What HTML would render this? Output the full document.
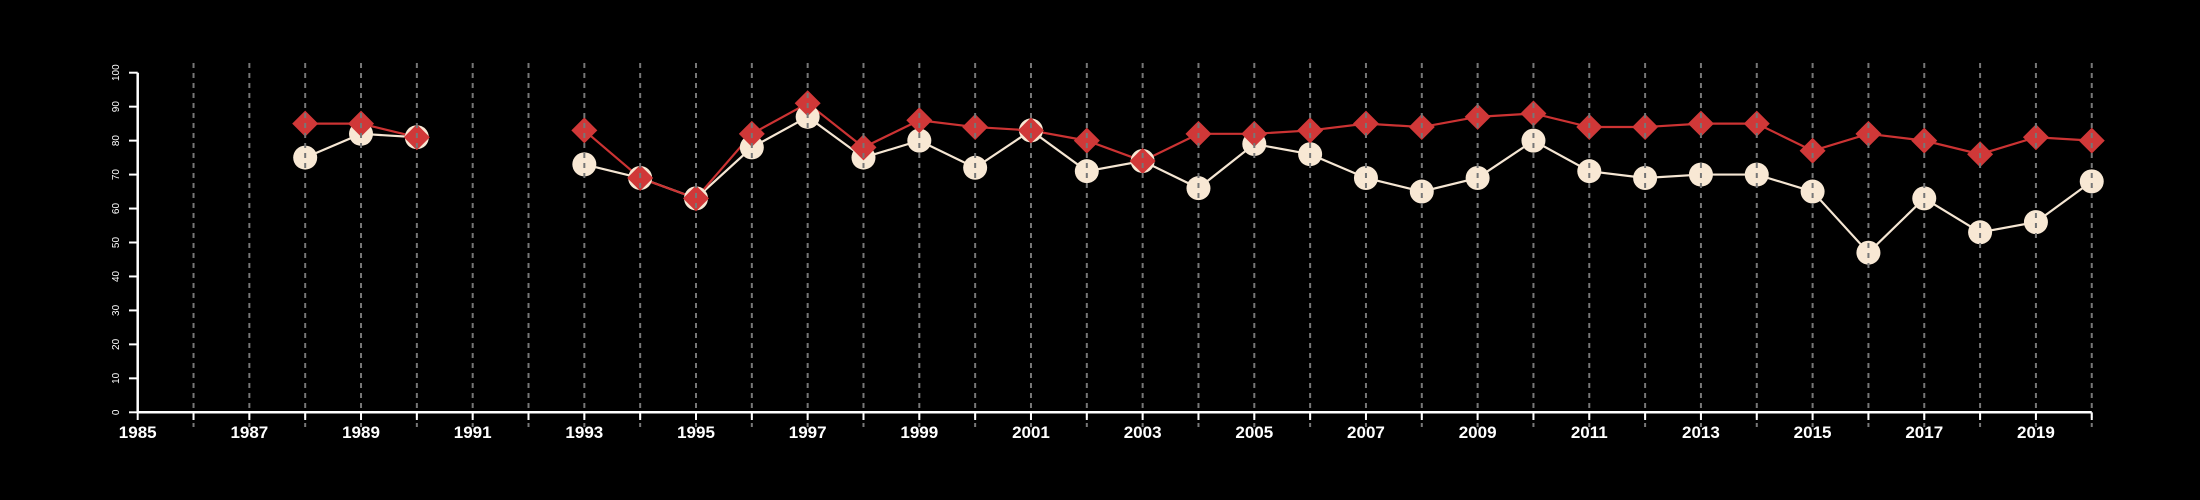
<!DOCTYPE html>
<html><head><meta charset="utf-8"><style>
html,body{margin:0;padding:0;background:#000;}
svg{display:block;font-family:"Liberation Sans",sans-serif;}
</style></head><body>
<svg id="chart" width="2200" height="500" viewBox="0 0 2200 500">
<rect width="2200" height="500" fill="#000"/>
<g id="series"></g><g id="grid"></g><g id="axes"></g>
</svg>
<script>
const years = [1988,1989,1990,1991,1992,1993,1994,1995,1996,1997,1998,1999,2000,2001,2002,2003,2004,2005,2006,2007,2008,2009,2010,2011,2012,2013,2014,2015,2016,2017,2018,2019,2020];
const whiteSeries = [75,82,81,null,null,73,69,63,78,87,75,80,72,83,71,74,66,79,76,69,65,69,80,71,69,70,70,65,47,63,53,56,68];
const redSeries = [85,85,81,null,null,83,69,63,82,91,78,86,84,83,80,74,82,82,83,85,84,87,88,84,84,85,85,77,82,80,76,81,80];
const xTickLabels = [1985,1987,1989,1991,1993,1995,1997,1999,2001,2003,2005,2007,2009,2011,2013,2015,2017,2019];
const yTickLabels = [0,10,20,30,40,50,60,70,80,90,100];

const NS="http://www.w3.org/2000/svg";
const X0=137.7, PX=55.83, Y0=412.3, PY=3.396;
const x=v=>X0+(v-1985)*PX, y=v=>Y0-v*PY;
function mk(tag,attrs,parent){const e=document.createElementNS(NS,tag);for(const k in attrs)e.setAttribute(k,attrs[k]);parent.appendChild(e);return e;}
const S=document.getElementById('series'),G=document.getElementById('grid'),A=document.getElementById('axes');

function segs(vals){const out=[];let cur=[];vals.forEach((v,i)=>{if(v==null){if(cur.length)out.push(cur);cur=[];}else cur.push([x(years[i]),y(v)]);});if(cur.length)out.push(cur);return out;}
function drawLine(vals,color,name){segs(vals).forEach(s=>{const p=mk('polyline',{points:s.map(q=>q.join(',')).join(' '),fill:'none',stroke:color,'stroke-width':2.2},S);

});}
drawLine(whiteSeries,'#f5e6d3','white-series-line');
drawLine(redSeries,'#cc3333','red-series-line');
whiteSeries.forEach((v,i)=>{if(v==null)return;const c=mk('circle',{cx:x(years[i]),cy:y(v),r:12,fill:'#f8e8d4'},S);

});
redSeries.forEach((v,i)=>{if(v==null)return;const cx=x(years[i]),cy=y(v),r=13;const d=mk('polygon',{points:`${cx},${cy-r} ${cx+r},${cy} ${cx},${cy+r} ${cx-r},${cy}`,fill:'#d03838'},S);

});

for(let yr=1986;yr<=2020;yr++){const l=mk('line',{x1:x(yr),x2:x(yr),y1:63,y2:427,stroke:'#777','stroke-width':2,'stroke-dasharray':'5,5'},G);

}

const xa=mk('line',{x1:x(1985),x2:x(2020),y1:Y0,y2:Y0,stroke:'#fff','stroke-width':2.5},A);


for(let yr=1985;yr<=2020;yr++){const t=mk('line',{x1:x(yr),x2:x(yr),y1:Y0,y2:420,stroke:'#fff','stroke-width':2},A);

}
xTickLabels.forEach(v=>{const t=mk('text',{x:x(v),y:438,fill:'#fff','font-size':17,'font-weight':'bold','text-anchor':'middle'},A);t.textContent=v;

});
const ya=mk('line',{x1:X0,x2:X0,y1:y(100),y2:Y0,stroke:'#fff','stroke-width':2.5},A);


yTickLabels.forEach(v=>{const t=mk('line',{x1:129,x2:X0,y1:y(v),y2:y(v),stroke:'#fff','stroke-width':2},A);


const tx=mk('text',{x:0,y:0,fill:'#fff','font-size':10,'text-anchor':'middle',transform:`translate(119,${y(v)}) rotate(-90)`},A);tx.textContent=v;

});
</script>
</body></html>
